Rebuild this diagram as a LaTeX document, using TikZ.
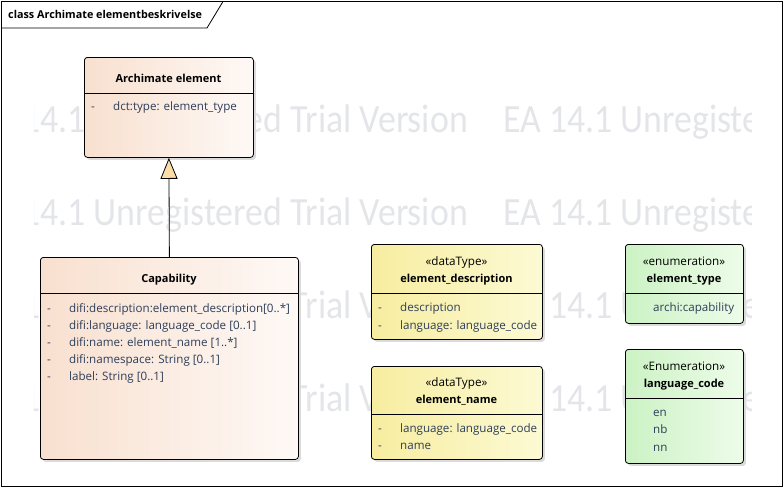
\documentclass[tikz,border=0pt]{standalone}
\usepackage{fontspec}
\setmainfont{Open Sans}
\newfontfamily\wmfont{Carlito}
\usetikzlibrary{arrows.meta,shadows}
\definecolor{peachL}{RGB}{248,224,207}
\definecolor{peachR}{RGB}{254,249,246}
\definecolor{yellowL}{RGB}{247,237,160}
\definecolor{yellowR}{RGB}{252,250,212}
\definecolor{greenL}{RGB}{204,242,196}
\definecolor{greenR}{RGB}{237,252,233}
\definecolor{trifill}{RGB}{251,221,170}
\definecolor{attrcol}{RGB}{45,62,90}
\definecolor{wmcol}{RGB}{228,229,233}
\tikzset{
  umlbox/.style={draw=black, line width=0.8pt, rounded corners=3pt, inner sep=0pt,
    anchor=north west, drop shadow={shadow xshift=2.5pt, shadow yshift=-2.5pt, fill=black!14, opacity=1}},
  peach/.style={umlbox, left color=peachL, right color=peachR},
  yellowbox/.style={umlbox, left color=yellowL, right color=yellowR},
  greenbox/.style={umlbox, left color=greenL, right color=greenR},
  sep/.style={draw=black, line width=0.8pt},
  title/.style={font=\fontsize{11}{13}\selectfont\bfseries, anchor=base, inner sep=0pt},
  stereo/.style={font=\fontsize{11.7}{13}\selectfont, anchor=base, inner sep=0pt},
  attr/.style={font=\fontsize{11.6}{13}\selectfont, text=attrcol, anchor=base west, inner sep=0pt},
  wm/.style={font=\wmfont\fontsize{40}{44}\selectfont, text=wmcol, inner sep=0pt},
  gen/.style={draw=black, line width=0.8pt, -{Triangle[length=21pt,width=17pt,fill=trifill]}},
}
\newcommand{\wmtext}{\scalebox{0.895}[1]{EA 14.1 Unregistered Trial Version}}
\begin{document}
\begin{tikzpicture}[x=1pt,y=-1pt]
\useasboundingbox (0,0) rectangle (784,488);
% watermark
\begin{scope}
\clip (34,2) rectangle (751,486);
\foreach \b in {132,225,318,411}{
  \node[wm, anchor=base east] at (468,\b) {\wmtext};
  \node[wm, anchor=base west] at (503,\b) {\wmtext};
}
\end{scope}
% frame
\draw[line width=0.8pt] (1.5,1.5) rectangle (782.5,486.5);
\draw[line width=0.8pt] (1.5,28) -- (207,28) -- (223,1.5);
\node[font=\fontsize{10.8}{12}\selectfont\bfseries, anchor=base west, inner sep=0pt] (frametitle) at (8,18) {class Archimate elementbeskrivelse};
% Archimate element
\node[peach, minimum width=169pt, minimum height=100pt] (arch) at (84,57) {};
\draw[sep] (84,93) -- (253,93);
\node[title] (archt) at (168.5,82) {Archimate element};
\node[attr] (archd) at (91,110) {-};
\node[attr] (archa) at (113,110) {dct:type: element\_type};
% Capability
\node[peach, minimum width=258pt, minimum height=202pt] (cap) at (40,257) {};
\draw[sep] (40,293) -- (298,293);
\node[title] (capt) at (169,282) {Capability};
\foreach \yy/\t [count=\i] in {312/{difi:description:element\_description[0..*]},329/{difi:language: language\_code [0..1]},346/{difi:name: element\_name [1..*]},363/{difi:namespace: String [0..1]},380/{label: String [0..1]}}{
  \node[attr] (capd\i) at (47,\yy) {-};
  \node[attr] (capa\i) at (69,\yy) {\t};
}
% generalization
\draw[gen] (cap.north) -- (arch.south);
% element_description
\node[yellowbox, minimum width=171pt, minimum height=95pt] (edesc) at (371,244) {};
\draw[sep] (371,293) -- (542,293);
\node[stereo] (edescs) at (456.5,265) {«dataType»};
\node[title] (edesct) at (456.5,282) {element\_description};
\node[attr] (edescd1) at (378,311) {-};
\node[attr] (edesca1) at (400,311) {description};
\node[attr] (edescd2) at (378,329) {-};
\node[attr] (edesca2) at (400,329) {language: language\_code};
% element_name
\node[yellowbox, minimum width=171pt, minimum height=93pt] (ename) at (371,366) {};
\draw[sep] (371,414) -- (542,414);
\node[stereo] (enames) at (456.5,386) {«dataType»};
\node[title] (enamet) at (456.5,403) {element\_name};
\node[attr] (enamed1) at (378,432) {-};
\node[attr] (enamea1) at (400,432) {language: language\_code};
\node[attr] (enamed2) at (378,449) {-};
\node[attr] (enamea2) at (400,449) {name};
% element_type
\node[greenbox, minimum width=118pt, minimum height=79pt] (etype) at (625,244) {};
\draw[sep] (625,293) -- (743,293);
\node[stereo] (etypes) at (684,265) {«enumeration»};
\node[title] (etypet) at (684,282) {element\_type};
\node[attr] (etypea) at (653,311) {archi:capability};
% language_code
\node[greenbox, minimum width=118pt, minimum height=114pt] (lcode) at (625,349) {};
\draw[sep] (625,398) -- (743,398);
\node[stereo] (lcodes) at (684,370) {«Enumeration»};
\node[title] (lcodet) at (684,387) {language\_code};
\node[attr] (lcode1) at (653,416) {en};
\node[attr] (lcode2) at (653,433) {nb};
\node[attr] (lcode3) at (653,451) {nn};
\end{tikzpicture}
\end{document}
